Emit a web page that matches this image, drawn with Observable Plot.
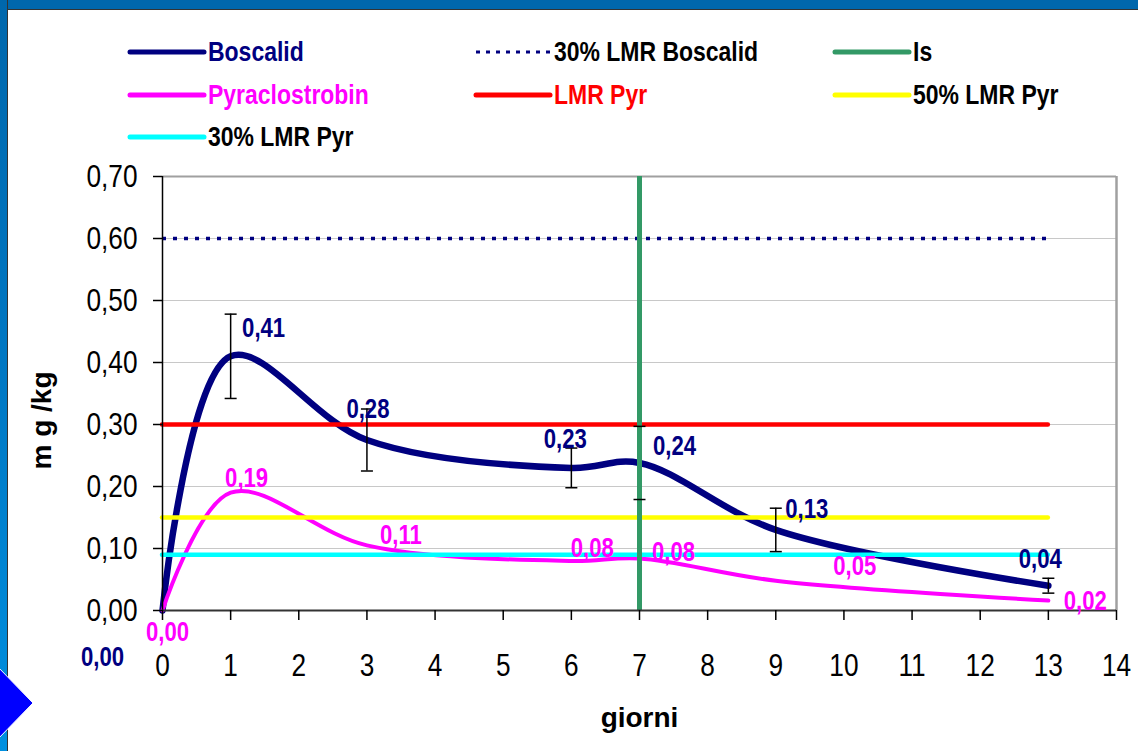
<!DOCTYPE html>
<html><head><meta charset="utf-8">
<script src="https://cdn.jsdelivr.net/npm/d3@7"></script>
<script src="https://cdn.jsdelivr.net/npm/@observablehq/plot@0.6"></script>
<style>
html,body{margin:0;padding:0;background:#fff;}
#page{position:relative;width:1138px;height:751px;overflow:hidden;background:#fff;font-family:"Liberation Sans",Arial,sans-serif;}
#topband{position:absolute;left:0;top:0;width:1138px;height:9px;background:#0067AC;border-bottom:1px solid #333;}
#leftband{position:absolute;left:0;top:0;width:7px;height:751px;background:linear-gradient(#0067AC,#0078C4 50%,#0090E0);border-right:1px solid #333;}
#diamond{position:absolute;left:0;top:0;}
#chart{position:absolute;left:0;top:150px;}
.leg{position:absolute;display:flex;align-items:center;height:34px;font-weight:bold;font-size:28px;white-space:nowrap;}
.leg svg{margin-right:1px;flex:none;}
.leg span{display:inline-block;transform:scaleX(0.82);transform-origin:left center;}
</style></head>
<body><div id="page">
<div id="topband"></div><div id="leftband"></div>
<svg id="diamond" width="60" height="751"><polygon points="-40,703 -4,665 33,703 -4,741" fill="#0000FF" stroke="#fff" stroke-width="1"/></svg>
<div id="legend"></div>
<div id="chart"></div>
</div>
<script>
// ---- data ----
const days = [0, 1, 3, 6, 7, 9, 13];
const boscalid = [0, 0.41, 0.275, 0.23, 0.238, 0.13, 0.04];
const boscalidErr = [0, 0.068, 0.05, 0.032, 0.059, 0.035, 0.012];
const pyraclostrobin = [0, 0.19, 0.105, 0.08, 0.084, 0.048, 0.016];
const xTicks = [0, 1, 2, 3, 4, 5, 6, 7, 8, 9, 10, 11, 12, 13, 14];
const yTicks = [0, 0.1, 0.2, 0.3, 0.4, 0.5, 0.6, 0.7];
const lmrBoscalid30 = 0.60;
const lmrPyr = 0.30;
const lmrPyr50 = 0.15;
const lmrPyr30 = 0.09;
const isDay = 7;
const seriesNames = ["Boscalid", "30% LMR Boscalid", "Is", "Pyraclostrobin", "LMR Pyr", "50% LMR Pyr", "30% LMR Pyr"];
const xTitle = "giorni";
const yTitle = "m g /kg";

// ---- styles ----
const NAVY = "#000080", PINK = "#FF00FF", RED = "#FF0000", YEL = "#FFFF00", CYAN = "#00FFFF", GREEN = "#339966";
const font = "'Liberation Sans',Arial,sans-serif";

// ---- legend (HTML) ----
const legendStyle = [
  {color: NAVY, text: NAVY, dash: null},
  {color: NAVY, text: "#000", dash: "4,6", thin: true},
  {color: GREEN, text: "#000", dash: null},
  {color: PINK, text: PINK, dash: null},
  {color: RED, text: RED, dash: null},
  {color: YEL, text: "#000", dash: null},
  {color: CYAN, text: "#000", dash: null}
];
const colLeft = [127, 473, 832], rowMid = [52, 95, 137];
const legend = document.getElementById("legend");
seriesNames.forEach((name, i) => {
  const s = legendStyle[i];
  const div = document.createElement("div");
  div.className = "leg";
  div.style.left = colLeft[i % 3] + "px";
  div.style.top = (rowMid[Math.floor(i / 3)] - 17) + "px";
  div.style.color = s.text;
  div.innerHTML = `<svg width="80" height="10"><line x1="3" x2="77" y1="5" y2="5" stroke="${s.color}" stroke-width="${s.thin ? 3 : 5}" stroke-linecap="${s.dash ? "butt" : "round"}" ${s.dash ? `stroke-dasharray="${s.dash}"` : ""}/></svg><span>${name}</span>`;
  legend.appendChild(div);
});

// ---- chart ----
const fmt = v => (Math.round(v * 100) / 100).toFixed(2).replace(".", ",");
const rows = days.map((d, i) => ({day: d, b: boscalid[i], e: boscalidErr[i], p: pyraclostrobin[i], i}));
const lastDay = days[days.length - 1];
const errRows = rows.filter(d => d.e > 0);
const capSymbol = {draw(ctx, size) { const r = Math.sqrt(size / Math.PI); ctx.moveTo(-r, 0); ctx.lineTo(r, 0); }};

const bOff = [[-60, 47], [33, -28], [1, -31], [-6, -29], [35, -17], [31, -21], [-8, -26]];
const pOff = [[5, 22], [16, -14], [34, -10], [21, -13], [34, -6], [79, -14], [37, 1]];

const labelMarks = [];
rows.forEach((r, i) => {
  labelMarks.push(Plot.text([r], {x: "day", y: "b", text: d => fmt(d.b), dx: bOff[i][0], dy: bOff[i][1],
    fill: NAVY, fontWeight: "bold", fontSize: 27, fontFamily: font, textAnchor: "middle", lineAnchor: "middle"}));
  labelMarks.push(Plot.text([r], {x: "day", y: "p", text: d => fmt(d.p), dx: pOff[i][0], dy: pOff[i][1],
    fill: PINK, fontWeight: "bold", fontSize: 27, fontFamily: font, textAnchor: "middle", lineAnchor: "middle"}));
});

const chart = Plot.plot({
  width: 1138,
  height: 601,
  marginLeft: 162,
  marginRight: 22,
  marginTop: 26,
  marginBottom: 141,
  style: {background: "transparent", overflow: "visible"},
  x: {domain: [0, 14]},
  y: {domain: [0, 0.7]},
  marks: [
    Plot.ruleY(yTicks.filter(d => d > 0 && d < 0.7), {stroke: "#C8C8C8", strokeWidth: 1}),
    Plot.ruleY([0.7], {stroke: "#A0A0A0", strokeWidth: 2}),
    Plot.ruleX([14], {stroke: "#A0A0A0", strokeWidth: 2.5}),
    Plot.line(rows, {x: "day", y: "b", stroke: NAVY, strokeWidth: 6.5, curve: "catmull-rom"}),
    Plot.ruleY([lmrBoscalid30], {x1: 0, x2: lastDay, stroke: NAVY, strokeWidth: 3.5, strokeDasharray: "4,7"}),
    Plot.line(rows, {x: "day", y: "p", stroke: PINK, strokeWidth: 4, curve: "catmull-rom"}),
    Plot.ruleY([lmrPyr], {x1: 0, x2: lastDay, stroke: RED, strokeWidth: 4.5, strokeLinecap: "round"}),
    Plot.ruleY([lmrPyr50], {x1: 0, x2: lastDay, stroke: YEL, strokeWidth: 4.5, strokeLinecap: "round"}),
    Plot.ruleY([lmrPyr30], {x1: 0, x2: lastDay, stroke: CYAN, strokeWidth: 4.5, strokeLinecap: "round"}),
    Plot.ruleX(errRows, {x: "day", y1: d => d.b - d.e, y2: d => d.b + d.e, stroke: "#000", strokeWidth: 1.5}),
    Plot.ruleX([isDay], {y1: 0, y2: 0.7, stroke: GREEN, strokeWidth: 5}),
    Plot.dot(errRows, {x: "day", y: d => d.b + d.e, symbol: capSymbol, r: 6, stroke: "#000", fill: "none", strokeWidth: 1.5}),
    Plot.dot(errRows, {x: "day", y: d => d.b - d.e, symbol: capSymbol, r: 6, stroke: "#000", fill: "none", strokeWidth: 1.5}),
    Plot.ruleX([0], {stroke: "#000", strokeWidth: 1.5}),
    Plot.ruleY([0], {stroke: "#333", strokeWidth: 2}),
    Plot.axisY({ticks: yTicks, tickFormat: fmt, tickSize: 9, tickPadding: 16, fontSize: 32, fontFamily: font, color: "#000", strokeWidth: 1.5, label: null}),
    Plot.axisX({ticks: xTicks, tickFormat: d => String(d), tickSize: 10, tickPadding: 33, fontSize: 32, fontFamily: font, color: "#000", strokeWidth: 1.5, label: null}),
    ...labelMarks,
    Plot.text([xTitle], {frameAnchor: "bottom", dy: 108, fontSize: 28, fontWeight: "bold", fontFamily: font, fill: "#000", lineAnchor: "middle"}),
    Plot.text([yTitle], {frameAnchor: "left", dx: -120, dy: 27, rotate: -90, fontSize: 28, fontWeight: "bold", fontFamily: font, fill: "#000", lineAnchor: "middle", textAnchor: "middle"})
  ]
});
document.getElementById("chart").appendChild(chart);

// narrow (Arial Narrow-like) rendering for tick and value labels
chart.querySelectorAll("text").forEach(t => {
  const s = t.textContent;
  if (s === xTitle || s === yTitle) return;
  const w = t.getComputedTextLength();
  if (w > 0) {
    t.setAttribute("textLength", (w * 0.82).toFixed(2));
    t.setAttribute("lengthAdjust", "spacingAndGlyphs");
  }
});
</script>
</body></html>
